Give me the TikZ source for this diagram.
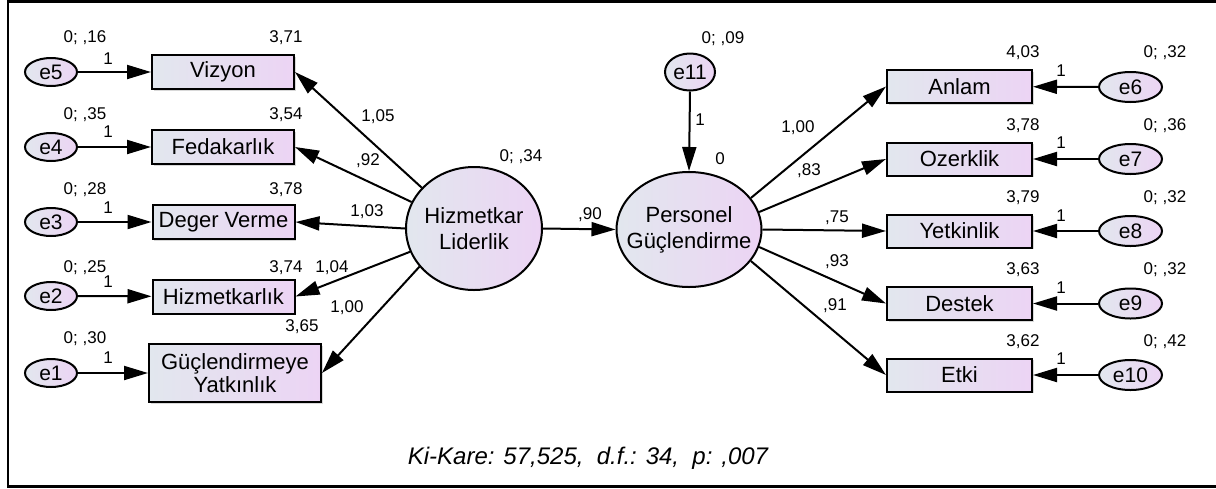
\documentclass[tikz,border=0pt]{standalone}
\usepackage{fontspec}
\setmainfont{Liberation Sans}
\usetikzlibrary{arrows.meta,shapes.geometric,shadows}
\definecolor{fa}{RGB}{226,231,238}
\definecolor{fb}{RGB}{236,212,244}
\begin{document}
\begin{tikzpicture}[x=0.5pt,y=-0.5pt,
  obs/.style={draw, line width=1pt, left color=fa, right color=fb,
    minimum width=71pt, minimum height=17pt, inner sep=0pt, align=center,
    font=\fontsize{11}{11.5}\selectfont,
    drop shadow={shadow xshift=0.8pt, shadow yshift=-0.8pt, fill=gray!60, opacity=0.5}},
  err/.style={ellipse, draw, line width=1pt, left color=fa, right color=fb,
    inner sep=0pt, minimum width=26pt, minimum height=14pt,
    font=\fontsize{10.5}{12}\selectfont},
  lat/.style={ellipse, draw, line width=1pt, left color=fa, right color=fb,
    inner sep=0pt},
  lattext/.style={inner sep=0pt, align=center, font=\fontsize{11}{13}\selectfont},
  num/.style={font=\fontsize{8.5}{10}\selectfont, inner sep=0pt},
  arr/.style={line width=1pt, -{Triangle[length=12pt,width=7pt]}},
  frame/.style={line width=1.2pt}
]
\useasboundingbox (0,0) rectangle (1216,488);
\coordinate (fA) at (1230,1.5);
\coordinate (fB) at (8,1.5);
\coordinate (fC) at (8,486.5);
\coordinate (fD) at (1230,486.5);
\draw[frame] (fA) -- (fB) -- (fC) -- (fD);

% left column
\node[err] (e5) at (51,72) {e5};
\node[err] (e4) at (51,147) {e4};
\node[err] (e3) at (51,222) {e3};
\node[err] (e2) at (51,296) {e2};
\node[err] (e1) at (51,373) {e1};
\node[obs] (v1) at (223,72) {Vizyon};
\node[obs] (v2) at (223,147) {Fedakarlık};
\node[obs] (v3) at (223.5,222) {Deger Verme};
\node[obs] (v4) at (223.5,296.5) {Hizmetkarlık};
\node[obs, minimum width=86pt, minimum height=29pt] (v5) at (235,373) {Güçlendirmeye\\Yatkınlık};

% latent
\node[lat, minimum width=68pt, minimum height=61.5pt,
  label={[lattext]center:Hizmetkar\\Liderlik}] (HL) at (474,228.5) {};
\node[lat, minimum width=72.5pt, minimum height=57.5pt,
  label={[lattext]center:Personel\\Güçlendirme}] (PG) at (689,229.5) {};
\node[err, minimum width=25pt, minimum height=18.5pt] (e11) at (690,72) {e11};

% right column
\node[obs, minimum width=72.5pt, minimum height=16.5pt] (w1) at (959.5,86.5) {Anlam};
\node[obs, minimum width=72.5pt, minimum height=16.5pt] (w2) at (959.5,159) {Ozerklik};
\node[obs, minimum width=72.5pt, minimum height=16.5pt] (w3) at (959.5,231) {Yetkinlik};
\node[obs, minimum width=72.5pt, minimum height=16.5pt] (w4) at (959.5,303.5) {Destek};
\node[obs, minimum width=72.5pt, minimum height=16.5pt] (w5) at (959.5,375) {Etki};
\node[err, minimum width=31.5pt, minimum height=15pt] (e6) at (1130.5,87) {e6};
\node[err, minimum width=31.5pt, minimum height=15pt] (e7) at (1130.5,159) {e7};
\node[err, minimum width=31.5pt, minimum height=15pt] (e8) at (1130.5,231) {e8};
\node[err, minimum width=31.5pt, minimum height=15pt] (e9) at (1130.5,303.5) {e9};
\node[err, minimum width=31.5pt, minimum height=15pt] (e10) at (1130.5,375) {e10};

% connectors
\draw[arr] (e5) -- (v1);
\draw[arr] (e4) -- (v2);
\draw[arr] (e3) -- (v3);
\draw[arr] (e2) -- (v4);
\draw[arr] (e1) -- (v5);
\draw[arr] (HL.142.6) -- (v1.east);
\draw[arr] (HL.157.5) -- (v2.east);
\draw[arr] (HL.180) -- (v3.east);
\draw[arr] (HL.200) -- (v4.east);
\draw[arr] (HL.215) -- (v5.east);
\draw[arr] (HL.east) -- (PG.west);
\draw[arr] (e11.south) -- (PG.north);
\draw[arr] (PG.27) -- (w1.west);
\draw[arr] (PG.14) -- (w2.west);
\draw[arr] (PG.0) -- (w3.west);
\draw[arr] (PG.-14) -- (w4.west);
\draw[arr] (PG.-27) -- (w5.west);
\draw[arr] (e6) -- (w1);
\draw[arr] (e7) -- (w2);
\draw[arr] (e8) -- (w3);
\draw[arr] (e9) -- (w4);
\draw[arr] (e10) -- (w5);

% numbers left
\node[num] (n1) at (85,37.5) {0; ,16};
\node[num] (n2) at (85,115) {0; ,35};
\node[num] (n3) at (85,190) {0; ,28};
\node[num] (n4) at (85,268) {0; ,25};
\node[num] (n5) at (85,339) {0; ,30};
\node[num] (o1) at (108,59) {1};
\node[num] (o2) at (108,132) {1};
\node[num] (o3) at (108,208) {1};
\node[num] (o4) at (108,282) {1};
\node[num] (o5) at (108,358) {1};
\node[num] (m1) at (286,37.5) {3,71};
\node[num] (m2) at (286,115) {3,54};
\node[num] (m3) at (286,190) {3,78};
\node[num] (m4) at (286,268) {3,74};
\node[num] (m5) at (302,327) {3,65};
\node[num] (l1) at (378,117) {1,05};
\node[num] (l2) at (368,161) {,92};
\node[num] (l3) at (367,212) {1,03};
\node[num] (l4) at (332,268) {1,04};
\node[num] (l5) at (347,308) {1,00};

% numbers center
\node[num] (c1) at (521,157) {0; ,34};
\node[num] (c2) at (590,215) {,90};
\node[num] (c3) at (723,38.5) {0; ,09};
\node[num] (c4) at (700,120) {1};
\node[num] (c5) at (720,159) {0};

% numbers right
\node[num] (r1) at (798,128) {1,00};
\node[num] (r2) at (809,171) {,83};
\node[num] (r3) at (837,218) {,75};
\node[num] (r4) at (837,262) {,93};
\node[num] (r5) at (835,306) {,91};
\node[num] (s1) at (1023,53) {4,03};
\node[num] (s2) at (1023,126) {3,78};
\node[num] (s3) at (1023,198) {3,79};
\node[num] (s4) at (1023,270) {3,63};
\node[num] (s5) at (1023,342) {3,62};
\node[num] (t1) at (1165,53) {0; ,32};
\node[num] (t2) at (1165,126) {0; ,36};
\node[num] (t3) at (1165,198) {0; ,32};
\node[num] (t4) at (1165,270) {0; ,32};
\node[num] (t5) at (1165,342) {0; ,42};
\node[num] (u1) at (1061,71) {1};
\node[num] (u2) at (1061,143) {1};
\node[num] (u3) at (1061,216) {1};
\node[num] (u4) at (1061,288) {1};
\node[num] (u5) at (1061,359) {1};

\node[inner sep=0pt, font=\fontsize{12}{14}\selectfont\itshape] (chi) at (588,458)
  {Ki-Kare: 57,525,\ \ d.f.: 34,\ \ p: ,007};
\end{tikzpicture}
\end{document}
